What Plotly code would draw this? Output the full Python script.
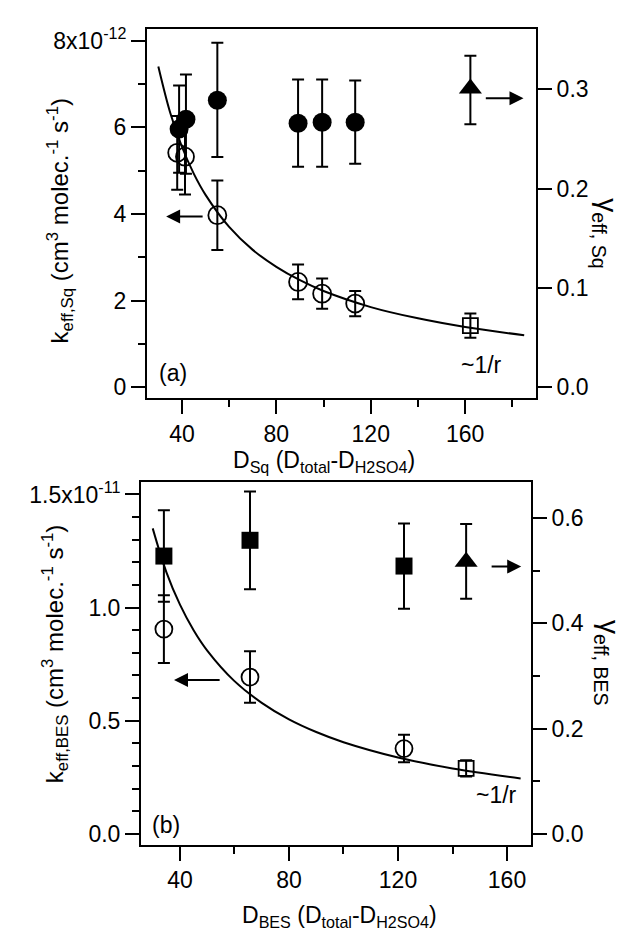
import plotly.graph_objects as go

# ---------------- data (panel a) ----------------
# k_eff,Sq in units of 1e-12 cm^3 molec^-1 s^-1 (left axis)
sq_open_x = [38.0, 41.3, 55.0, 89.2, 99.4, 113.4]
sq_open_k = [5.41, 5.32, 3.97, 2.43, 2.16, 1.93]
sq_open_err = [0.85, 0.87, 0.80, 0.40, 0.35, 0.29]
sq_sq_x = [162.2]
sq_sq_k = [1.42]
sq_sq_err = [0.28]
# gamma_eff,Sq (right axis)
sq_fill_x = [38.8, 41.7, 55.0, 89.2, 99.4, 113.4]
sq_fill_g = [0.260, 0.270, 0.289, 0.266, 0.267, 0.267]
sq_fill_up = [0.044, 0.045, 0.058, 0.044, 0.043, 0.042]
sq_fill_dn = [0.044, 0.055, 0.057, 0.044, 0.045, 0.042]
sq_tri_x = [162.2]
sq_tri_g = [0.301]
sq_tri_up = [0.033]
sq_tri_dn = [0.036]
# ~1/r curve
sq_fit_x = [30, 35, 40, 45, 50, 60, 70, 80, 90, 100, 120, 140, 160, 185]
sq_fit_k = [7.40, 6.34, 5.55, 4.93, 4.44, 3.70, 3.17, 2.78, 2.47, 2.22, 1.85, 1.59, 1.39, 1.20]

# ---------------- data (panel b) ----------------
# k_eff,BES in units of 1e-11 (left axis)
bes_open_x = [34.1, 65.7, 122.2]
bes_open_k = [0.905, 0.693, 0.377]
bes_open_err = [0.150, 0.114, 0.061]
bes_sq_x = [145.0]
bes_sq_k = [0.289]
bes_sq_err = [0.036]
# gamma_eff,BES (right axis)
bes_fill_x = [34.1, 65.7, 122.2]
bes_fill_g = [0.528, 0.558, 0.509]
bes_fill_err = [0.087, 0.093, 0.081]
bes_tri_x = [145.0]
bes_tri_g = [0.517]
bes_tri_up = [0.072]
bes_tri_dn = [0.070]
bes_fit_x = [30, 35, 40, 45, 50, 60, 70, 80, 90, 100, 120, 140, 165]
bes_fit_k = [1.35, 1.157, 1.013, 0.90, 0.81, 0.675, 0.579, 0.506, 0.45, 0.405, 0.3375, 0.289, 0.245]

# tick labels
x_ticks = [40, 80, 120, 160]
ya_ticks = [0, 2, 4, 6, 8]
ya_text = ["0", "2", "4", "6", "8x10<sup>-12</sup>"]
ya2_ticks = [0.0, 0.1, 0.2, 0.3]
ya2_text = ["0.0", "0.1", "0.2", "0.3"]
yb_ticks = [0.0, 0.5, 1.0, 1.5]
yb_text = ["0.0", "0.5", "1.0", "1.5x10<sup>-11</sup>"]
yb2_ticks = [0.0, 0.2, 0.4, 0.6]
yb2_text = ["0.0", "0.2", "0.4", "0.6"]

W, H = 626, 933
FONT = "Arial, Liberation Sans, sans-serif"
FS = 23


def px(x):
    return x / W


def py(y):
    return 1 - y / H


fig = go.Figure()

def errbar(arr, arrm=None):
    d = dict(type="data", array=arr, thickness=2, width=6, color="black", visible=True)
    if arrm is not None:
        d["symmetric"] = False
        d["arrayminus"] = arrm
    return d

# panel a
fig.add_trace(go.Scatter(x=sq_fit_x, y=sq_fit_k, mode="lines", line=dict(color="black", width=2, shape="spline"),
                         xaxis="x", yaxis="y", showlegend=False))
fig.add_trace(go.Scatter(x=sq_open_x, y=sq_open_k, mode="markers", error_y=errbar(sq_open_err),
                         marker=dict(symbol="circle-open", size=18, color="black", line=dict(width=1.8)),
                         xaxis="x", yaxis="y", showlegend=False))
fig.add_trace(go.Scatter(x=sq_sq_x, y=sq_sq_k, mode="markers", error_y=errbar(sq_sq_err),
                         marker=dict(symbol="square-open", size=15, color="black", line=dict(width=1.8)),
                         xaxis="x", yaxis="y", showlegend=False))
fig.add_trace(go.Scatter(x=sq_fill_x, y=sq_fill_g, mode="markers", error_y=errbar(sq_fill_up, sq_fill_dn),
                         marker=dict(symbol="circle", size=19, color="black"),
                         xaxis="x", yaxis="y2", showlegend=False))
fig.add_trace(go.Scatter(x=sq_tri_x, y=sq_tri_g, mode="markers", error_y=errbar(sq_tri_up, sq_tri_dn),
                         marker=dict(symbol="triangle-up", size=20, color="black"),
                         xaxis="x", yaxis="y2", showlegend=False))

# panel b
fig.add_trace(go.Scatter(x=bes_fit_x, y=bes_fit_k, mode="lines", line=dict(color="black", width=2, shape="spline"),
                         xaxis="x2", yaxis="y3", showlegend=False))
fig.add_trace(go.Scatter(x=bes_open_x, y=bes_open_k, mode="markers", error_y=errbar(bes_open_err),
                         marker=dict(symbol="circle-open", size=17, color="black", line=dict(width=1.8)),
                         xaxis="x2", yaxis="y3", showlegend=False))
fig.add_trace(go.Scatter(x=bes_sq_x, y=bes_sq_k, mode="markers", error_y=errbar(bes_sq_err),
                         marker=dict(symbol="square-open", size=15, color="black", line=dict(width=1.8)),
                         xaxis="x2", yaxis="y3", showlegend=False))
fig.add_trace(go.Scatter(x=bes_fill_x, y=bes_fill_g, mode="markers", error_y=errbar(bes_fill_err),
                         marker=dict(symbol="square", size=17, color="black"),
                         xaxis="x2", yaxis="y4", showlegend=False))
fig.add_trace(go.Scatter(x=bes_tri_x, y=bes_tri_g, mode="markers", error_y=errbar(bes_tri_up, bes_tri_dn),
                         marker=dict(symbol="triangle-up", size=20, color="black"),
                         xaxis="x2", yaxis="y4", showlegend=False))

common = dict(showgrid=False, zeroline=False, showline=True, linewidth=2, linecolor="black",
              ticks="outside", ticklen=14, tickwidth=2, tickcolor="black",
              tickfont=dict(family=FONT, size=FS, color="black"))


def minor(vals):
    return dict(tickmode="array", tickvals=vals, ticks="outside", ticklen=7, tickwidth=2,
                tickcolor="black", showgrid=False)


fig.update_layout(
    width=W, height=H, margin=dict(l=0, r=0, t=0, b=0),
    paper_bgcolor="white", plot_bgcolor="white",
    font=dict(family=FONT, size=FS, color="black"),
    xaxis=dict(domain=[px(139), px(528)], anchor="y", range=[25.2, 190], mirror=True,
               tickmode="array", tickvals=x_ticks, minor=minor([60, 100, 140, 180]), **common),
    yaxis=dict(domain=[py(388), py(16)], anchor="x", range=[-0.25, 8.27],
               tickmode="array", tickvals=ya_ticks, ticktext=ya_text, minor=minor([1, 3, 5, 7]), **common),
    yaxis2=dict(overlaying="y", side="right", anchor="x", range=[-0.011, 0.361],
                tickmode="array", tickvals=ya2_ticks, ticktext=ya2_text, **common),
    xaxis2=dict(domain=[px(133), px(523)], anchor="y3", range=[25.7, 168.8], mirror=True,
                tickmode="array", tickvals=x_ticks, minor=minor([60, 100, 140]), **common),
    yaxis3=dict(domain=[py(838), py(473)], anchor="x2", range=[-0.048, 1.553],
                tickmode="array", tickvals=yb_ticks, ticktext=yb_text,
                minor=minor([0.1, 0.2, 0.3, 0.4, 0.6, 0.7, 0.8, 0.9, 1.1, 1.2, 1.3, 1.4]), **common),
    yaxis4=dict(overlaying="y3", side="right", anchor="x2", range=[-0.021, 0.668],
                tickmode="array", tickvals=yb2_ticks, ticktext=yb2_text,
                minor=minor([0.1, 0.3, 0.5]), **common),
)

ann = []


def text(x, y, s, angle=0, size=FS):
    ann.append(dict(xref="paper", yref="paper", x=px(x), y=py(y), text=s, showarrow=False,
                    xanchor="center", yanchor="middle", textangle=angle,
                    font=dict(family=FONT, size=size, color="black")))


def arrow(xr, yr, xh, xt, y):
    ann.append(dict(xref=xr, yref=yr, axref=xr, ayref=yr, x=xh, y=y, ax=xt, ay=y, text="",
                    showarrow=True, arrowhead=2, arrowsize=1.4, arrowwidth=2, arrowcolor="black"))


text(52, 210, "k<sub>eff,Sq</sub> (cm<sup>3</sup> molec.<sup>-1</sup> s<sup>-1</sup>)", -90, 24)
text(598, 222, "γ<sub>eff, Sq</sub>", 90, 28)
text(316, 452, "D<sub>Sq</sub> (D<sub>total</sub>-D<sub>H2SO4</sub>)")
text(165, 363, "(a)")
text(473, 355, "~1/r")

text(47, 646, "k<sub>eff,BES</sub> (cm<sup>3</sup> molec.<sup>-1</sup> s<sup>-1</sup>)", -90, 24)
text(600, 655, "γ<sub>eff, BES</sub>", 90, 28)
text(331, 910, "D<sub>BES</sub> (D<sub>total</sub>-D<sub>H2SO4</sub>)")
text(158, 818, "(b)")
text(488, 788, "~1/r")

arrow("x", "y", 33.3, 49.4, 3.94)
arrow("x", "y2", 184.7, 168.1, 0.291)
arrow("x2", "y3", 37.8, 55.1, 0.68)
arrow("x2", "y4", 165.2, 153.8, 0.508)

fig.update_layout(annotations=ann)
fig.write_html("out.html")
